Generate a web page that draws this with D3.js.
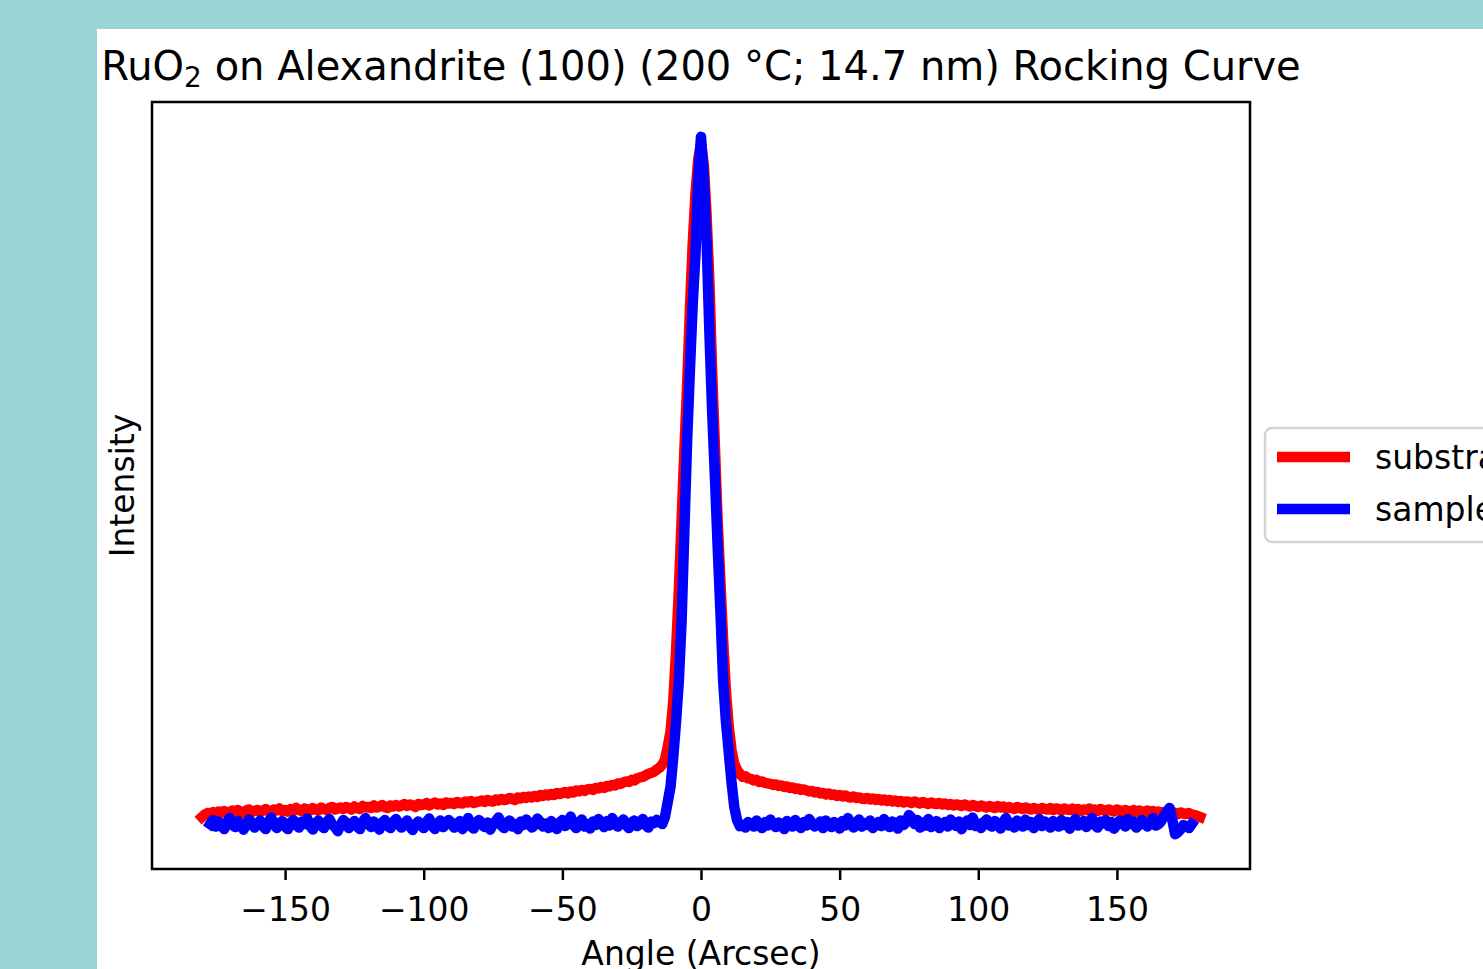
<!DOCTYPE html>
<html>
<head>
<meta charset="utf-8">
<script src="https://cdn.jsdelivr.net/npm/d3@7"></script>
<style>
  html, body { margin: 0; padding: 0; background: #9ad5d5; overflow: hidden; }
  svg { display: block; font-family: "DejaVu Sans", sans-serif; }
</style>
</head>
<body>
<div id="chart"></div>
<script>
// Set up conventions
let width = 1483;
let height = 969;
let margin = ({top: 102, right: 233, bottom: 100, left: 152});

// scan angles (arcsec)
let angle = [
  -180, -179, -178, -177, -176, -175, -174, -173, -172, -171,
  -170, -169, -168, -167, -166, -165, -164, -163, -162, -161,
  -160, -159, -158, -157, -156, -155, -154, -153, -152, -151,
  -150, -149, -148, -147, -146, -145, -144, -143, -142, -141,
  -140, -139, -138, -137, -136, -135, -134, -133, -132, -131,
  -130, -129, -128, -127, -126, -125, -124, -123, -122, -121,
  -120, -119, -118, -117, -116, -115, -114, -113, -112, -111,
  -110, -109, -108, -107, -106, -105, -104, -103, -102, -101,
  -100, -99, -98, -97, -96, -95, -94, -93, -92, -91,
  -90, -89, -88, -87, -86, -85, -84, -83, -82, -81,
  -80, -79, -78, -77, -76, -75, -74, -73, -72, -71,
  -70, -69, -68, -67, -66, -65, -64, -63, -62, -61,
  -60, -59, -58, -57, -56, -55, -54, -53, -52, -51,
  -50, -49, -48, -47, -46, -45, -44, -43, -42, -41,
  -40, -39, -38, -37, -36, -35, -34, -33, -32, -31,
  -30, -29, -28, -27, -26, -25, -24, -23, -22, -21,
  -20, -19, -18, -17, -16, -15,
  -14, -13, -12, -11, -10, -9, -8, -7, -6, -5, -4, -3, -2, -1,
  0,
  1, 2, 3, 4, 5, 6, 7, 8, 9, 10, 11, 12, 13, 14,
  15, 16, 17, 18, 19, 20, 21, 22, 23, 24,
  25, 26, 27, 28, 29, 30, 31, 32, 33, 34,
  35, 36, 37, 38, 39, 40, 41, 42, 43, 44,
  45, 46, 47, 48, 49, 50, 51, 52, 53, 54,
  55, 56, 57, 58, 59, 60, 61, 62, 63, 64,
  65, 66, 67, 68, 69, 70, 71, 72, 73, 74,
  75, 76, 77, 78, 79, 80, 81, 82, 83, 84,
  85, 86, 87, 88, 89, 90, 91, 92, 93, 94,
  95, 96, 97, 98, 99, 100, 101, 102, 103, 104,
  105, 106, 107, 108, 109, 110, 111, 112, 113, 114,
  115, 116, 117, 118, 119, 120, 121, 122, 123, 124,
  125, 126, 127, 128, 129, 130, 131, 132, 133, 134,
  135, 136, 137, 138, 139, 140, 141, 142, 143, 144,
  145, 146, 147, 148, 149, 150, 151, 152, 153, 154,
  155, 156, 157, 158, 159, 160, 161, 162, 163, 164,
  165, 166, 167, 168, 169, 170, 171, 172, 173, 174,
  175, 176, 177, 178, 179, 180
];

// substrate intensity (arb. units)
let substrate = [
  550, 575, 590, 585, 600, 580, 605, 595, 610, 590,
  600, 615, 595, 620, 605, 590, 615, 625, 600, 610,
  620, 600, 615, 630, 610, 605, 625, 615, 635, 610,
  620, 605, 630, 615, 640, 620, 610, 635, 625, 615,
  640, 625, 615, 645, 630, 620, 640, 650, 625, 635,
  645, 630, 650, 640, 625, 655, 640, 630, 660, 645,
  650, 640, 665, 645, 655, 670, 650, 640, 665, 655,
  670, 655, 665, 680, 660, 675, 665, 650, 680, 670,
  675, 690, 665, 680, 695, 675, 685, 670, 695, 685,
  690, 680, 700, 690, 685, 705, 695, 710, 690, 700,
  705, 715, 700, 720, 710, 705, 725, 715, 730, 720,
  725, 740, 730, 720, 745, 735, 750, 740, 755, 745,
  760, 750, 770, 760, 775, 765, 780, 770, 790, 780,
  790, 800, 785, 805, 795, 815, 805, 820, 810, 825,
  830, 820, 840, 835, 850, 840, 860, 855, 870, 865,
  885, 880, 895, 905, 900, 920, 915, 935, 945, 950,
  965, 980, 990, 1000, 1020, 1040,
  1070, 1120, 1250, 1400, 1700, 2200, 2800, 3500, 4200, 4850, 5600, 6250, 6750, 7100,
  7250,
  7050, 6550, 5900, 5000, 4250, 3500, 2900, 2300, 1800, 1450, 1220, 1080, 1020, 980,
  950, 955, 935, 930, 915, 920, 900, 905, 890, 885,
  880, 870, 875, 860, 865, 850, 855, 840, 845, 830,
  835, 820, 825, 815, 805, 810, 795, 800, 785, 790,
  775, 785, 770, 775, 760, 770, 755, 765, 750, 745,
  755, 740, 745, 735, 730, 740, 725, 735, 720, 730,
  715, 725, 710, 720, 705, 715, 700, 710, 695, 705,
  700, 690, 705, 695, 685, 700, 690, 680, 695, 685,
  680, 690, 675, 685, 670, 680, 665, 675, 670, 660,
  675, 665, 655, 670, 660, 650, 665, 655, 645, 660,
  650, 640, 660, 645, 655, 635, 650, 640, 630, 650,
  640, 630, 645, 635, 625, 640, 630, 620, 640, 630,
  625, 640, 620, 635, 630, 615, 635, 625, 620, 635,
  620, 630, 610, 625, 620, 635, 615, 625, 610, 630,
  620, 610, 625, 615, 605, 625, 615, 600, 620, 610,
  605, 620, 600, 615, 605, 595, 615, 600, 610, 595,
  605, 590, 600, 595, 585, 600, 590, 580, 595, 585,
  580, 590, 575, 570, 560, 550
];

// sample (film) intensity (arb. units)
let sample = [
  null, null, null, 480, 520, 455, 505, 470, 430, 495,
  540, 470, 450, 510, 485, 425, 470, 525, 495, 445,
  480, 515, 460, 430, 500, 545, 475, 440, 490, 510,
  455, 430, 495, 520, 470, 445, 505, 480, 535, 460,
  425, 490, 515, 465, 440, 500, 530, 475, 450, 410,
  470, 520, 495, 440, 480, 510, 455, 430, 500, 540,
  485, 450, 505, 470, 425, 495, 520, 460, 440, 500,
  530, 475, 445, 490, 515, 455, 420, 480, 505, 470,
  440, 500, 535, 465, 430, 490, 515, 450, 475, 520,
  495, 445, 470, 510, 430, 485, 540, 460, 435, 500,
  520, 470, 450, 495, 425, 480, 510, 545, 465, 440,
  495, 515, 455, 480, 430, 505, 470, 525, 490, 445,
  470, 535, 500, 455, 485, 440, 510, 475, 430, 495,
  520, 460, 485, 555, 470, 440, 500, 525, 455, 480,
  435, 505, 470, 530, 490, 450, 510, 465, 540, 480,
  455, 500, 525, 470, 440, 495, 515, 460, 485, 530,
  470, 445, 505, 490, 520, 500,
  480, 550, 700, 850, 1150, 1500, 1900, 2500, 3400, 4300, 5000, 5650, 6150, 6900,
  7320,
  6920, 6300, 5400, 4600, 3950, 3250, 2600, 1900, 1500, 1200, 900, 650, 520, 460,
  470, 445, 500, 480, 455, 515, 470, 440, 500, 465,
  525, 480, 450, 495, 470, 430, 510, 485, 455, 520,
  475, 440, 500, 465, 530, 490, 455, 475, 505, 440,
  515, 470, 450, 500, 480, 435, 510, 465, 540, 480,
  445, 500, 525, 455, 490, 470, 515, 440, 475, 500,
  460, 530, 475, 450, 505, 485, 435, 515, 470, 500,
  570, 540, 480, 520, 445, 495, 465, 530, 450, 490,
  510, 440, 475, 500, 455, 525, 480, 460, 505, 430,
  490, 515, 470, 545, 460, 485, 440, 500, 525, 470,
  455, 510, 480, 435, 500, 540, 465, 490, 445, 515,
  480, 455, 525, 470, 500, 440, 490, 530, 460, 505,
  475, 445, 510, 485, 455, 520, 470, 500, 435, 490,
  530, 465, 480, 510, 450, 495, 540, 470, 445, 505,
  485, 520, 460, 500, 435, 475, 515, 490, 455, 530,
  480, 505, 445, 470, 520, 490, 455, 500, 540, 465,
  480, 510, 560, 600, 640, 520, 380, 400, 430, 470,
  460, 440, 480, null, null, null
];

let seriesNames = ["substrate", "sample"];
let seriesColors = ["#ff0000", "#0000ff"];
let xTicks = [-150, -100, -50, 0, 50, 100, 150];

let titleMain = "RuO";
let titleSub = "2";
let titleRest = " on Alexandrite (100) (200 \u00b0C; 14.7 nm) Rocking Curve";
let xLabel = "Angle (Arcsec)";
let yLabel = "Intensity";

let svg = d3.select("#chart")
    .append("svg")
    .attr("width", width)
    .attr("height", height)

// white figure panel
svg.append("rect")
    .attr("x", 97)
    .attr("y", 29)
    .attr("width", width - 97)
    .attr("height", height - 29)
    .attr("fill", "white")

let x0 = margin.left, x1 = width - margin.right;
let y0 = margin.top, y1 = 869;

// x scale with matplotlib-like 5% margins
let xExt = d3.extent(angle);
let xPad = (xExt[1] - xExt[0]) * 0.05;
let xScale = d3.scaleLinear()
    .domain([xExt[0] - xPad, xExt[1] + xPad])
    .range([x0, x1])

let allY = substrate.concat(sample).filter(v => v != null);
let yExt = d3.extent(allY);
let yPad = (yExt[1] - yExt[0]) * 0.05;
let yScale = d3.scaleLinear()
    .domain([yExt[0] - yPad, yExt[1] + yPad])
    .range([y1, y0])

// lines
let series = [substrate, sample];
series.forEach((vals, k) => {
    let pts = angle.map((a, i) => ({a: a, v: vals[i]}));
    let line = d3.line()
        .defined(d => d.v != null)
        .x(d => xScale(d.a))
        .y(d => yScale(d.v))
    svg.append("path")
        .datum(pts)
        .attr("fill", "none")
        .attr("stroke", seriesColors[k])
        .attr("stroke-width", 10.5)
        .attr("stroke-linejoin", "round")
        .attr("stroke-linecap", "square")
        .attr("d", line)
})

// frame
svg.append("rect")
    .attr("x", x0)
    .attr("y", y0)
    .attr("width", x1 - x0)
    .attr("height", y1 - y0)
    .attr("fill", "none")
    .attr("stroke", "black")
    .attr("stroke-width", 2.5)

// x axis
let xAxis = d3.axisBottom(xScale)
    .tickValues(xTicks)
    .tickSize(11)
    .tickFormat(d => d < 0 ? "\u2212" + Math.abs(d) : String(d))

let gx = svg.append("g")
    .attr("transform", "translate(0," + y1 + ")")
    .call(xAxis)
gx.select(".domain").remove()
gx.selectAll(".tick line").attr("stroke", "black").attr("stroke-width", 2.5)
gx.selectAll(".tick text")
    .attr("y", 52)
    .attr("dy", null)
    .attr("fill", "black")
    .style("font-size", "33px")
    .style("font-family", "DejaVu Sans")

// title
let title = svg.append("text")
    .attr("x", (x0 + x1) / 2)
    .attr("y", 80)
    .attr("text-anchor", "middle")
    .style("font-size", "40px")
    .attr("fill", "black")
title.append("tspan").text(titleMain)
title.append("tspan").attr("dy", 7).style("font-size", "28px").text(titleSub)
title.append("tspan").attr("dy", -7).text(titleRest)

// axis labels
svg.append("text")
    .attr("x", (x0 + x1) / 2)
    .attr("y", 965)
    .attr("text-anchor", "middle")
    .style("font-size", "33px")
    .text(xLabel)

svg.append("text")
    .attr("transform", "translate(134," + ((y0 + y1) / 2) + ") rotate(-90)")
    .attr("text-anchor", "middle")
    .style("font-size", "33px")
    .text(yLabel)

// legend
let lg = svg.append("g").attr("transform", "translate(1265,428)")
lg.append("rect")
    .attr("width", 320)
    .attr("height", 114)
    .attr("rx", 7)
    .attr("fill", "white")
    .attr("stroke", "#d3d3d3")
    .attr("stroke-width", 2.5)

seriesNames.forEach((name, i) => {
    let cy = 29 + i * 52;
    lg.append("line")
        .attr("x1", 12)
        .attr("x2", 85)
        .attr("y1", cy)
        .attr("y2", cy)
        .attr("stroke", seriesColors[i])
        .attr("stroke-width", 10.5)
    lg.append("text")
        .attr("x", 110)
        .attr("y", cy + 12)
        .style("font-size", "33px")
        .text(name)
})
</script>
</body>
</html>
